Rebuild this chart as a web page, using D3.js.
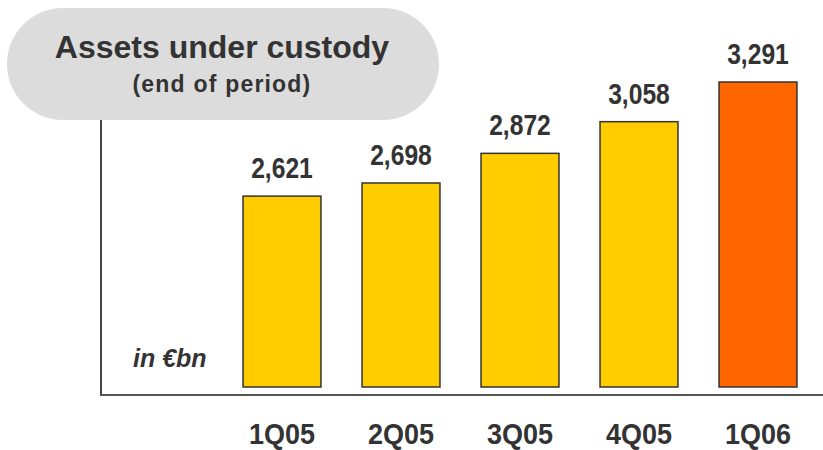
<!DOCTYPE html>
<html>
<head>
<meta charset="utf-8">
<script src="https://cdn.jsdelivr.net/npm/d3@7"></script>
<style>
  html, body { margin: 0; padding: 0; background: #fff; }
  svg { display: block; }
  text { font-family: "Liberation Sans", Arial, sans-serif; fill: #333; font-weight: bold; }
</style>
</head>
<body>
<svg id="chart" width="823" height="450"></svg>
<script>
// Assets under custody, end of period, in € bn
const categories = ["1Q05", "2Q05", "3Q05", "4Q05", "1Q06"];
const values = [2621, 2698, 2872, 3058, 3291];
const highlight = [false, false, false, false, true];

const width = 823, height = 450;
const svg = d3.select("#chart");

const x = d3.scaleBand()
  .domain(categories)
  .range([222.5, 817.5])
  .paddingInner(0.345)
  .paddingOuter(0.1725);

// value axis starts at 1,500 (truncated)
const y = d3.scaleLinear()
  .domain([1500, 3291])
  .range([387, 82]);

const fmt = d3.format(",");
const cx = d => x(d) + x.bandwidth() / 2;

// axis frame: left and bottom lines
svg.append("line")
  .attr("x1", 101).attr("x2", 101)
  .attr("y1", 110).attr("y2", 395)
  .attr("stroke", "#444").attr("stroke-width", 2);
svg.append("line")
  .attr("x1", 100).attr("x2", width)
  .attr("y1", 395).attr("y2", 395)
  .attr("stroke", "#555").attr("stroke-width", 2);

// bars
svg.selectAll("rect.bar")
  .data(categories)
  .join("rect")
  .attr("class", "bar")
  .attr("x", d => x(d))
  .attr("width", x.bandwidth())
  .attr("y", (d, i) => y(values[i]))
  .attr("height", (d, i) => y.range()[0] - y(values[i]))
  .attr("fill", (d, i) => highlight[i] ? "#FF6600" : "#FFCC00")
  .attr("stroke", "#333")
  .attr("stroke-width", 1.5);

// value labels (condensed)
svg.selectAll("text.val")
  .data(categories)
  .join("text")
  .attr("class", "val")
  .attr("transform", (d, i) => `translate(${cx(d)},${y(values[i]) - 18}) scale(0.85,1)`)
  .attr("text-anchor", "middle")
  .style("font-size", "29px")
  .text((d, i) => fmt(values[i]));

// category labels (condensed)
svg.selectAll("text.cat")
  .data(categories)
  .join("text")
  .attr("class", "cat")
  .attr("transform", d => `translate(${cx(d)},444) scale(0.9,1)`)
  .attr("text-anchor", "middle")
  .style("font-size", "30px")
  .text(d => d);

// unit note
svg.append("text")
  .attr("x", 133).attr("y", 367)
  .style("font-size", "25px")
  .style("font-style", "italic")
  .text("in €bn");

// title pill
svg.append("rect")
  .attr("x", 7).attr("y", 8)
  .attr("width", 432).attr("height", 112)
  .attr("rx", 56).attr("ry", 56)
  .attr("fill", "#DCDCDC");
svg.append("text")
  .attr("x", 222).attr("y", 58)
  .attr("text-anchor", "middle")
  .style("font-size", "32px")
  .text("Assets under custody");
svg.append("text")
  .attr("x", 222).attr("y", 92)
  .attr("text-anchor", "middle")
  .style("font-size", "23px")
  .style("letter-spacing", "1.2px")
  .text("(end of period)");
</script>
</body>
</html>
